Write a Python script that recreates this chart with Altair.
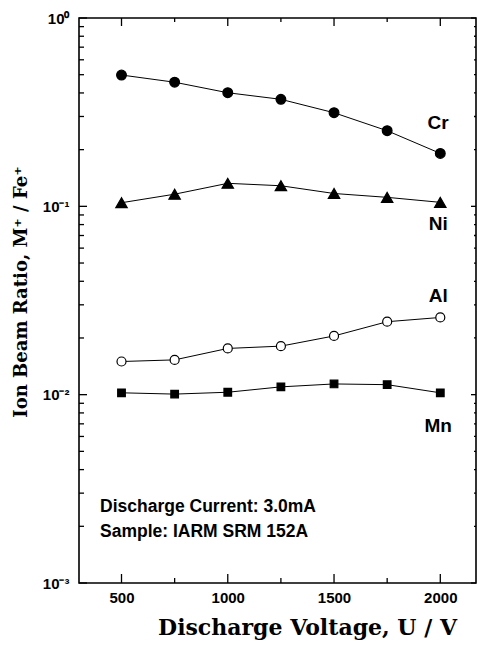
import altair as alt
import pandas as pd

# ---- data ----
voltages = [500, 750, 1000, 1250, 1500, 1750, 2000]
cr = [0.498, 0.456, 0.401, 0.370, 0.314, 0.252, 0.191]
ni = [0.1045, 0.116, 0.1325, 0.1286, 0.117, 0.1116, 0.105]
al = [0.0150, 0.0153, 0.0176, 0.0181, 0.0205, 0.0244, 0.0257]
mn = [0.01023, 0.01007, 0.0103, 0.0110, 0.0114, 0.0113, 0.01023]
elements = ["Cr", "Ni", "Al", "Mn"]

label_voltage = [1990, 1990, 1990, 1990]
label_ratio = [0.256, 0.0748, 0.0311, 0.00635]

notes = ["Discharge Current: 3.0mA", "Sample: IARM SRM 152A"]
note_voltage = [399, 399]
note_ratio = [0.00239, 0.00175]

x_major = [500, 1000, 1500, 2000]
x_minor = [750, 1250, 1750]
y_major = [1, 0.1, 0.01, 0.001]
y_major_labels = ["10⁰", "10⁻¹", "10⁻²", "10⁻³"]
y_minor = [m * d for d in (0.1, 0.01, 0.001) for m in range(2, 10)]

W, H = 397, 565

rows = []
for el, vals in zip(elements, [cr, ni, al, mn]):
    for v, r in zip(voltages, vals):
        rows.append({"voltage": v, "ratio": r, "element": el})
df = pd.DataFrame(rows)

labels_df = pd.DataFrame({"voltage": label_voltage, "ratio": label_ratio, "text": elements})
notes_df = pd.DataFrame({"voltage": note_voltage, "ratio": note_ratio, "text": notes})

xs = alt.Scale(domain=[300, 2168], nice=False, zero=False)
ys = alt.Scale(type="log", domain=[0.001, 1], nice=False)

expr = ""
for v, l in zip(y_major[:-1], y_major_labels[:-1]):
    expr += f"datum.value >= {v / 2} ? '{l}' : "
expr += f"'{y_major_labels[-1]}'"

xaxis = alt.Axis(
    values=x_major, format="d", ticks=False, domain=False, grid=False,
    labelFont="Liberation Sans", labelFontWeight="bold", labelFontSize=15,
    labelColor="black", labelPadding=7,
    title="Discharge Voltage, U / V", titleFont="DejaVu Serif",
    titleFontWeight="bold", titleFontSize=22, titleColor="black",
    titleX=228, titleY=51, titleAlign="center", titleBaseline="alphabetic",
)
yaxis = alt.Axis(
    values=y_major, labelExpr=expr, ticks=False, domain=False, grid=False,
    labelFont="Liberation Sans", labelFontWeight="bold", labelFontSize=15,
    labelColor="black", labelPadding=10,
    title="Ion Beam Ratio, M⁺ / Fe⁺", titleFont="DejaVu Serif",
    titleFontWeight="bold", titleFontSize=18, titleColor="black",
    titleX=-53, titleY=273.5, titleAngle=270, titleAlign="center",
    titleBaseline="alphabetic",
)

X = lambda f: alt.X(f, scale=xs, axis=xaxis)
Y = lambda f: alt.Y(f, scale=ys, axis=yaxis)

lines = alt.Chart(df).mark_line(color="black", strokeWidth=1).encode(
    x=X("voltage:Q"), y=Y("ratio:Q"), detail="element:N",
)

def pts(el, shape, size, fill):
    return alt.Chart(df).transform_filter(alt.datum.element == el).mark_point(
        shape=shape, size=size, filled=True, fill=fill, stroke="black",
        strokeWidth=1.2, opacity=1,
    ).encode(x=X("voltage:Q"), y=Y("ratio:Q"))

points = [
    pts("Cr", "circle", 95, "black"),
    pts("Ni", "triangle-up", 130, "black"),
    pts("Al", "circle", 81, "white"),
    pts("Mn", "square", 58, "black"),
]

series_labels = alt.Chart(labels_df).mark_text(
    align="center", baseline="alphabetic", font="Liberation Sans",
    fontWeight="bold", fontSize=19, color="black",
).encode(x=X("voltage:Q"), y=Y("ratio:Q"), text="text:N")

note_text = alt.Chart(notes_df).mark_text(
    align="left", baseline="alphabetic", font="Liberation Sans",
    fontWeight="bold", fontSize=17.5, color="black",
).encode(x=X("voltage:Q"), y=Y("ratio:Q"), text="text:N")

def yticks(vals, x1, x2):
    return alt.Chart(pd.DataFrame({"ratio": vals})).mark_rule(
        color="black", strokeWidth=1.3).encode(
        y=Y("ratio:Q"), x=alt.value(x1), x2=alt.value(x2))

def xticks(vals, y1, y2):
    return alt.Chart(pd.DataFrame({"voltage": vals})).mark_rule(
        color="black", strokeWidth=1.3).encode(
        x=X("voltage:Q"), y=alt.value(y1), y2=alt.value(y2))

ticks = [
    yticks(y_major, 0, 8), yticks(y_minor, 0, 5),
    yticks(y_major, W - 5, W), yticks(y_minor, W - 2, W),
    xticks(x_major, H, H - 9), xticks(x_minor, H, H - 5),
    xticks(x_major, 0, 8), xticks(x_minor, 0, 4),
]

chart = alt.layer(lines, *points, series_labels, note_text, *ticks).properties(
    width=W, height=H,
    padding={"left": 79, "top": 18, "right": 1, "bottom": 65},
    autosize=alt.AutoSizeParams(type="none"),
    background="white",
).configure_view(stroke="black", strokeWidth=1.6)

chart.save("out.html", embed_options={"renderer": "svg", "actions": False})
